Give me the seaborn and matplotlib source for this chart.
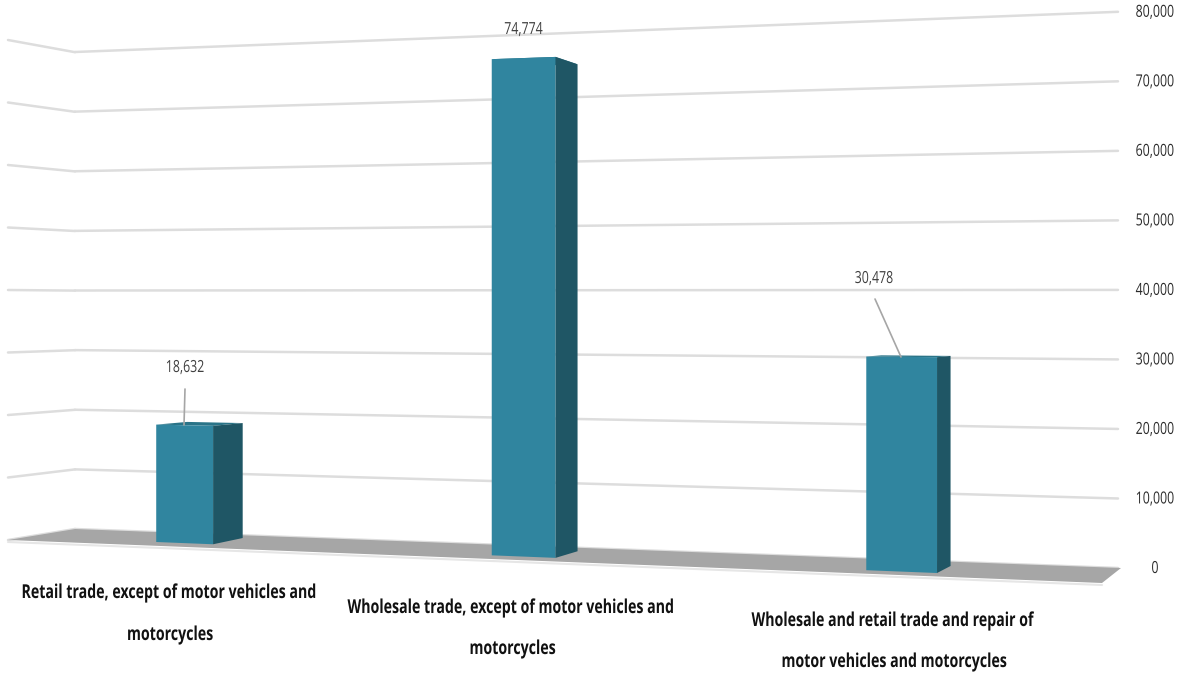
import numpy as np
import pandas as pd
import matplotlib
matplotlib.use("Agg")
import matplotlib.pyplot as plt
import matplotlib.patheffects as pe
import seaborn as sns
from matplotlib.text import Text
from matplotlib.transforms import Affine2D, Bbox, Transform

W, H = 1181, 675

# DATA
categories = [
    "Retail trade, except of motor vehicles and\nmotorcycles",
    "Wholesale trade, except of motor vehicles and\nmotorcycles",
    "Wholesale and retail trade and repair of\nmotor vehicles and motorcycles",
]
values = [18632, 74774, 30478]
value_labels = ["18,632", "74,774", "30,478"]
grid_ticks = [0, 10000, 20000, 30000, 40000, 50000, 60000, 70000, 80000]
tick_labels = ["0", "10,000", "20,000", "30,000", "40,000", "50,000", "60,000", "70,000", "80,000"]

FRONT = "#30859F"
SIDE = "#1F5665"
TOP = "#2A7488"
FLOOR = "#A6A6A6"
GRID = "#DDDDDD"
BAR_WIDTH = 0.178
SQUEEZE = 0.74


def cat_px(c):
    # categories get further apart towards the viewer
    return 184.5 + 319.5 * c + 19.5 * c ** 2


def side_shift(x):
    return 29.6 - 0.0222 * (x - 213)


class Plane(Transform):
    """(x, value) on a slanted plane of the fake 3d box -> figure fraction"""
    input_dims = 2
    output_dims = 2

    def __init__(self, xmap, x0, y0, y_slope, s0, s_slope):
        super().__init__()
        self.xmap, self.x0, self.y0, self.y_slope = xmap, x0, y0, y_slope
        self.s0, self.s_slope = s0, s_slope

    def px(self, x, v):
        x = np.asarray(self.xmap(np.asarray(x, dtype=float)), dtype=float)
        d = x - self.x0
        return x, self.y0 + self.y_slope * d - (self.s0 + self.s_slope * d) * np.asarray(v) / 1000

    def transform_non_affine(self, values):
        values = np.asarray(values, dtype=float)
        x, y = self.px(values[:, 0], values[:, 1])
        return np.column_stack([x / W, 1 - y / H])


class Squeeze(pe.AbstractPathEffect):
    # no condensed font installed, so squeeze the glyphs sideways around the anchor
    def __init__(self, x):
        super().__init__()
        self.x = x

    def draw_path(self, renderer, gc, tpath, affine, rgbFace=None):
        narrow = affine + Affine2D().translate(-self.x, 0).scale(SQUEEZE, 1).translate(self.x, 0)
        renderer.draw_path(gc, tpath, narrow, rgbFace)


class NarrowText(Text):
    def get_window_extent(self, renderer=None, dpi=None):
        bb = super().get_window_extent(renderer, dpi)
        x0 = self.get_transform().transform(self.get_position())[0]
        return Bbox.from_extents(x0 + (bb.x0 - x0) * SQUEEZE, bb.y0, x0 + (bb.x1 - x0) * SQUEEZE, bb.y1)


def put_text(x, y, s, ha="center", **kw):
    t = NarrowText(x, y, s, ha=ha, va="center", family="Open Sans", transform=pixels,
                   path_effects=[Squeeze(x)], **kw)
    ax.add_artist(t)


same = lambda x: x
left_wall = Plane(same, 8, 540, -11 / 67, 6.25, -0.29 / 67)
back_wall = Plane(same, 75, 529, 39 / 1043, 5.9625, 0.99 / 1043)
bar_front = Plane(cat_px, 156, 542, 0.0397, 6.30, 0.001)
bar_back = Plane(same, 242, 538, 0.0395, 6.17, 0.00102)

sns.set_style("white")
fig = plt.figure(figsize=(W / 100, H / 100), dpi=100)
ax = fig.add_axes([0, 0, 1, 1])
pixels = Affine2D().scale(1 / W, -1 / H).translate(0, 1) + fig.transFigure

df = pd.DataFrame({"category": categories, "value": values})
sns.barplot(data=df, x="category", y="value", color=FRONT, saturation=1, width=BAR_WIDTH,
            linewidth=0, ax=ax, zorder=4)
ax.axis("off")

# BARS
for p in ax.patches:
    p.set_transform(bar_front + fig.transFigure)
    p.set_clip_on(False)

for i, v in enumerate(values):
    xl, xr = cat_px(i - BAR_WIDTH / 2), cat_px(i + BAR_WIDTH / 2)
    xl_back, xr_back = xl + side_shift(xl), xr + side_shift(xr)
    fl = bar_front.px([i - BAR_WIDTH / 2], [v])
    fr = bar_front.px([i + BAR_WIDTH / 2], [v])
    fb = bar_front.px([i + BAR_WIDTH / 2], [0])
    bl = bar_back.px([xl_back], [v])
    br = bar_back.px([xr_back], [v])
    bb = bar_back.px([xr_back], [0])
    ax.fill([fr[0][0], br[0][0], bb[0][0], fb[0][0]], [fr[1][0], br[1][0], bb[1][0], fb[1][0]],
            color=SIDE, lw=0, transform=pixels, zorder=4, clip_on=False)
    ax.fill([fl[0][0], bl[0][0], br[0][0], fr[0][0]], [fl[1][0], bl[1][0], br[1][0], fr[1][0]],
            color=TOP, lw=0, transform=pixels, zorder=3, clip_on=False)

# WALLS AND FLOOR
for t in grid_ticks:
    ax.plot([8, 75], [t, t], color=GRID, lw=1.8, transform=left_wall + fig.transFigure, zorder=1, clip_on=False)
    ax.plot([75, 1118], [t, t], color=GRID, lw=1.8, transform=back_wall + fig.transFigure, zorder=1, clip_on=False)

ax.plot([8, 1102], [542, 585], color="#E6E6E6", lw=1.5, transform=pixels, zorder=1, clip_on=False)
ax.fill([8, 75, 1121, 1102], [540, 529, 568, 583], color=FLOOR, lw=0, transform=pixels, zorder=2, clip_on=False)

# TEXT
for t, lab in zip(grid_ticks, tick_labels):
    _, y = back_wall.px([1118], [t])
    put_text(1155, y[0] + 1, lab, fontsize=12, color="#2B2B2B")

for lab, x, y in zip(value_labels, [185, 523.5, 874], [368, 30, 279]):
    put_text(x, y, lab, fontsize=12, color="#404040")

# leader lines
ax.plot([185, 184], [389, 425], color="#A6A6A6", lw=1.2, transform=pixels, zorder=5)
ax.plot([875, 901], [299, 357], color="#A6A6A6", lw=1.2, transform=pixels, zorder=5)

label_x = [(21.5, 127), (347.5, 469.5), (751.5, 781.5)]
label_y = [(593, 635), (608, 649), (621, 662)]
for cat, xs, ys in zip(categories, label_x, label_y):
    for line, x, y in zip(cat.split("\n"), xs, ys):
        put_text(x, y, line, ha="left", fontsize=13.8, fontweight="bold", color="#111111")

fig.savefig("out.png", dpi=100, facecolor="white")
